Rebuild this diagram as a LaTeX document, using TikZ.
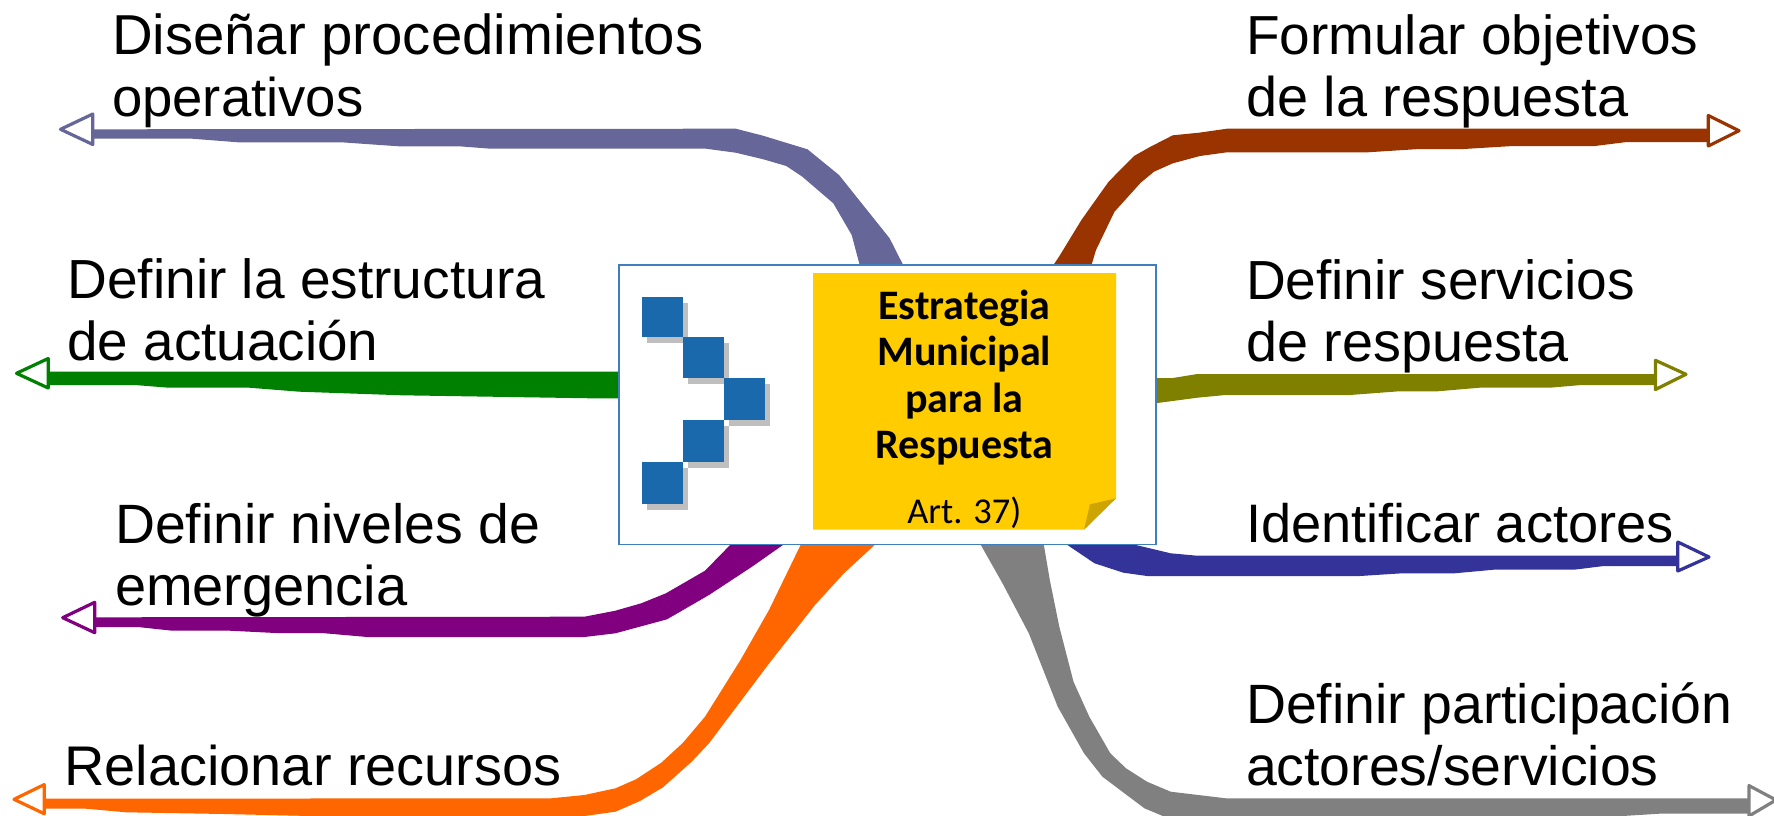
\documentclass[tikz,border=0pt]{standalone}
\usepackage{fontspec}
\setmainfont{Liberation Sans}
\newfontfamily\notefont{Carlito}
\definecolor{cPeri}{HTML}{666699}
\definecolor{cBrown}{HTML}{993300}
\definecolor{cGreen}{HTML}{008000}
\definecolor{cOlive}{HTML}{808000}
\definecolor{cPurple}{HTML}{800080}
\definecolor{cNavy}{HTML}{333399}
\definecolor{cOrange}{HTML}{FF6600}
\definecolor{cGrey}{HTML}{808080}
\definecolor{cNote}{HTML}{FFCC00}
\definecolor{cFold}{HTML}{CDA400}
\definecolor{cSquare}{HTML}{1A69AD}
\definecolor{cShadow}{HTML}{BFBFBF}
\definecolor{cFrame}{HTML}{3F7FBF}
\newcommand{\lsize}[1]{\fontsize{#1}{62}\selectfont}
\tikzset{
  headtip/.style={draw=#1,fill=white,line width=3.2pt,line join=round},
  lbl/.style={anchor=base west,inner sep=0pt,outer sep=0pt,align=left,
    font=\fontsize{55.4}{62}\selectfont},
  notetext/.style={anchor=base,inner sep=0pt,align=center,text=black},
}
\begin{document}
\begin{tikzpicture}[x=1pt,y=-1pt]
\useasboundingbox (0,0) rectangle (1774,816);
\clip (0,0) rectangle (1774,816);
% branches
\fill[cPeri] (93,129.3)--(735.7,128.7)--(763,135.7)--(807.5,149.3)--(839,175)--(889.6,238.3)--(905.7,270)--(861,270)--(851.7,235)--(833.3,203.3)--(802.3,176.7)--(786.3,166)--(763.3,159.3)--(735.7,152.7)--(705.9,148.7)--(490.6,148.7)--(459,146.3)--(398.8,146.3)--(341.4,142.3)--(238,142.3)--(192,138.7)--(93,138.7)--cycle;
\draw[headtip=cPeri] (60.5,129.3)--(92.8,114)--(92.8,144.5)--cycle;
\fill[cBrown] (1708,128.7)--(1227,128.7)--(1199,132.7)--(1172.8,135.3)--(1150.5,146.7)--(1134,156)--(1108.6,181.7)--(1081.4,220)--(1059,256.7)--(1050,270)--(1090,270)--(1096,250)--(1114.5,211.7)--(1140.7,182.7)--(1154,171.7)--(1172.8,163.3)--(1200,156)--(1227,152.3)--(1367.7,152.3)--(1419.5,149)--(1464,149)--(1513,146)--(1594.8,146)--(1626.8,142)--(1708,142)--cycle;
\draw[headtip=cBrown] (1739,130.7)--(1708.3,115.5)--(1708.3,146)--cycle;
\fill[cGreen] (48.2,371.7)--(625,371.7)--(625,398.3)--(590.6,398.3)--(401.8,395.3)--(299.3,391.7)--(249,387.7)--(168.7,387.7)--(134.6,385)--(48.2,385)--cycle;
\draw[headtip=cGreen] (16.5,373.3)--(48.2,358.5)--(48.2,388)--cycle;
\fill[cOlive] (1150,378)--(1172.8,378)--(1197.4,374)--(1655,374)--(1655,385)--(1581.4,385)--(1549.9,387.7)--(1479.7,387.7)--(1437.6,391.3)--(1399,391.3)--(1350,395)--(1225.4,395)--(1197.4,397.7)--(1150,404)--cycle;
\draw[headtip=cOlive] (1686,374.3)--(1655.4,360.3)--(1655.4,389.5)--cycle;
\fill[cPurple] (94.7,617.3)--(584.4,616.7)--(615.4,610.7)--(641.2,603.3)--(665.9,593.3)--(705,570.7)--(735,540)--(790,540)--(752,566.7)--(709,595)--(667,619.3)--(615.4,633.3)--(584.4,637)--(367.4,637)--(321.5,633)--(275.5,633)--(229.6,630.7)--(172.2,630.7)--(137.8,627)--(94.7,627)--cycle;
\draw[headtip=cPurple] (62.7,617.7)--(94.7,602.3)--(94.7,632.7)--cycle;
\fill[cOrange] (44.2,798.7)--(551,798.3)--(584.4,795)--(615.4,788.3)--(636,779.3)--(661.3,762.7)--(683,742.7)--(705,716.7)--(740.5,660)--(769,610)--(803,540)--(880,540)--(843.9,573.3)--(815,605)--(769.2,663.3)--(709,743.3)--(691.7,761.7)--(663,787.3)--(640,801)--(615.4,811.7)--(584.4,816)--(310,816)--(223.9,814)--(126.3,812.3)--(86,808.7)--(44.2,808.7)--cycle;
\draw[headtip=cOrange] (14,799.3)--(44.2,784.6)--(44.2,813.7)--cycle;
\fill[cNavy] (1115,540)--(1170.7,553.3)--(1197,555.7)--(1678,555.7)--(1678,566)--(1604,566)--(1574,569.7)--(1493.9,569.7)--(1454.5,573.3)--(1402,573.3)--(1360,576)--(1147,576)--(1123.4,572.7)--(1094.5,563.3)--(1060,540)--cycle;
\draw[headtip=cNavy] (1709,557)--(1677.8,542)--(1677.8,571)--cycle;
\fill[cGrey] (1043,540)--(1049.8,580)--(1059.3,626.7)--(1073.5,681.7)--(1089.3,716.7)--(1110.3,753.3)--(1126,768.3)--(1147,781.7)--(1170.7,791.7)--(1225.9,798.3)--(1749,798.3)--(1749,813.7)--(1659.4,813.7)--(1622.6,816)--(1162.8,816)--(1144.4,808.3)--(1102.4,776.7)--(1084,753.3)--(1057.7,706.7)--(1028.8,633.3)--(1002.5,583.3)--(978,540)--cycle;
\draw[headtip=cGrey] (1776,800)--(1749,785.6)--(1749,816)--cycle;
% central box
\node[draw=cFrame,fill=white,line width=1.3pt,inner sep=0pt,minimum width=537pt,minimum height=279.7pt] (hub) at (887.5,404.9) {};
% chevron of squares
\foreach \xa/\ya/\xb/\yb in {642/297/683/337,683/337/724/378,724/378/765/420,683/420/724/462,642/462/683/504}
  \fill[cShadow] (\xa+4.5,\ya+5.5) rectangle (\xb+4.5,\yb+5.5);
\foreach \xa/\ya/\xb/\yb in {642/297/683/337,683/337/724/378,724/378/765/420,683/420/724/462,642/462/683/504}
  \fill[cSquare] (\xa,\ya) rectangle (\xb,\yb);
% note
\fill[cNote] (813,273)--(1116,273)--(1116,498.3)--(1084,529.7)--(813,529.7)--cycle;
\fill[cFold] (1084,529.7)--(1090,504.3)--(1116,498.3)--cycle;
\node[notetext,font=\notefont\bfseries\fontsize{42}{46.4}\selectfont] (title) at (964.4,458.5) {Estrategia\\Municipal\\para la\\Respuesta};
\node[notetext,font=\notefont\fontsize{36.4}{40}\selectfont] (art) at (964.4,523) {Art. 37)};
% labels
\node[lbl] (l1) at (112,116) {{\lsize{56.3}Diseñar procedimientos}\\{\lsize{54.5}operativos}};
\node[lbl] (l2) at (67.5,360.5) {{\lsize{55.1}Definir la estructura}\\{\lsize{54.8}de actuación}};
\node[lbl] (l3) at (115,605) {Definir niveles de\\{\lsize{56}emergencia}};
\node[lbl,font=\fontsize{55.9}{62}\selectfont] (l4) at (64.5,785) {Relacionar recursos};
\node[lbl] (r1) at (1246,116.7) {{\lsize{55}Formular objetivos}\\{\lsize{55.9}de la respuesta}};
\node[lbl] (r2) at (1246,361) {{\lsize{55.1}Definir servicios}\\{\lsize{55.8}de respuesta}};
\node[lbl,font=\fontsize{54.2}{62}\selectfont] (r3) at (1246,542.7) {Identificar actores};
\node[lbl] (r4) at (1246,785.7) {Definir participación\\actores/servicios};
\end{tikzpicture}
\end{document}
